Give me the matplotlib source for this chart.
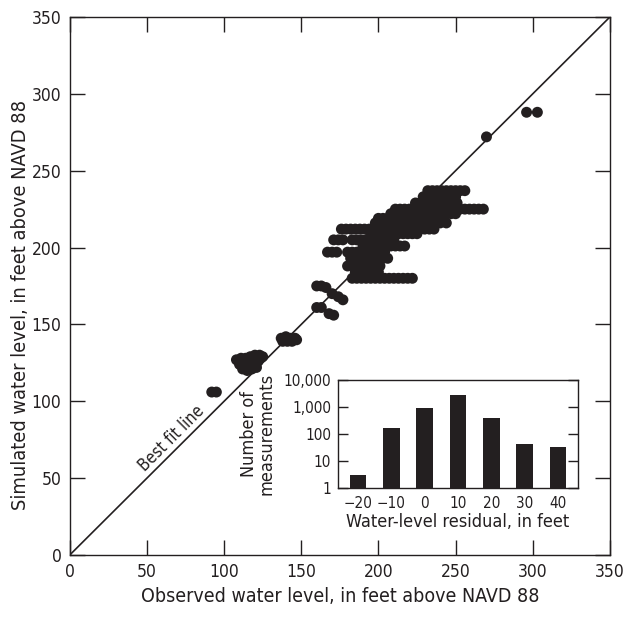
import matplotlib
matplotlib.use('Agg')
from matplotlib import pyplot as plt
from matplotlib.ticker import FixedLocator

plt.rcParams['font.family'] = ['DejaVu Sans']
plt.rcParams['font.stretch'] = 'condensed'

# observed vs simulated water levels (feet above NAVD 88)
observed = [
    92, 95,
    108, 111, 114, 117, 120, 123, 125, 110, 113, 116, 119, 122, 112, 115, 118, 121,
    137, 140, 143, 146, 138, 141, 144, 147,
    160, 163, 166, 170, 174, 177, 160, 163, 168, 171,
    183, 186, 189, 192, 195, 198, 201, 204, 207, 210, 213, 216, 219, 222,
    185, 188, 191, 194, 197, 200,
    180, 183, 186, 189, 192, 195, 198, 201,
    182, 185, 188, 191, 194, 197, 200, 203, 206,
    167, 170, 173, 180, 183, 186, 189, 192, 195, 198, 201, 204,
    190, 193, 196, 199, 202, 205, 208, 211, 214, 217,
    171, 174, 177, 183, 186, 189, 192, 195, 198, 201, 204, 207, 210,
    195, 198, 201, 204, 207, 210, 213, 216, 219, 222, 225,
    176, 179, 182, 185, 188, 191, 194, 197, 200, 203, 206, 209, 212, 215, 218,
    221, 224, 227, 230, 233, 236,
    198, 201, 204, 207, 210, 213, 216, 219, 222, 225, 228, 231, 234, 237, 240, 244,
    200, 203, 206, 209, 212, 215, 218, 221, 224, 227, 230, 233, 236, 239, 242,
    208, 211, 214, 217, 220, 223, 226, 229, 232, 235, 238, 241, 244, 247, 250,
    211, 214, 217, 220, 223, 226, 229, 232, 235, 238, 241, 244, 247, 250, 253,
    256, 259, 262, 265, 268,
    224, 227, 230, 233, 236, 239, 242, 245, 248, 251,
    229, 232, 235, 238, 241, 244, 247, 250,
    232, 235, 238, 241, 244, 247, 250, 253, 256,
    270, 296, 303,
]
simulated = [
    106, 106,
    127, 128, 128, 129, 130, 130, 129, 124, 124, 125, 125, 126, 121, 120, 121, 122,
    141, 142, 141, 141, 139, 139, 139, 140,
    175, 175, 174, 170, 168, 166, 161, 161, 157, 156,
    180, 180, 180, 180, 180, 180, 180, 180, 180, 180, 180, 180, 180, 180,
    184, 184, 184, 184, 184, 184,
    188, 188, 188, 188, 188, 188, 188, 188,
    193, 193, 193, 193, 193, 193, 193, 193, 193,
    197, 197, 197, 197, 197, 197, 197, 197, 197, 197, 197, 197,
    201, 201, 201, 201, 201, 201, 201, 201, 201, 201,
    205, 205, 205, 205, 205, 205, 205, 205, 205, 205, 205, 205, 205,
    209, 209, 209, 209, 209, 209, 209, 209, 209, 209, 209,
    212, 212, 212, 212, 212, 212, 212, 212, 212, 212, 212, 212, 212, 212, 212,
    212, 212, 212, 212, 212, 212,
    216, 216, 216, 216, 216, 216, 216, 216, 216, 216, 216, 216, 216, 216, 216, 216,
    219, 219, 219, 219, 219, 219, 219, 219, 219, 219, 219, 219, 219, 219, 219,
    222, 222, 222, 222, 222, 222, 222, 222, 222, 222, 222, 222, 222, 222, 222,
    225, 225, 225, 225, 225, 225, 225, 225, 225, 225, 225, 225, 225, 225, 225,
    225, 225, 225, 225, 225,
    229, 229, 229, 229, 229, 229, 229, 229, 229, 229,
    233, 233, 233, 233, 233, 233, 233, 233,
    237, 237, 237, 237, 237, 237, 237, 237, 237,
    272, 288, 288,
]

# residual histogram (inset)
residual_bins = [-20, -10, 0, 10, 20, 30, 40]
counts = [2, 170, 950, 2800, 380, 42, 32]

ink = '#231f20'

fig = plt.figure(figsize=(6.4, 6.17), dpi=100)
ax = fig.add_axes([0.109, 0.1005, 0.844, 0.872])

ax.plot([0, 350], [0, 350], color=ink, lw=1.2, zorder=1)
ax.scatter(observed, simulated, s=62, color=ink, edgecolors='none', zorder=2)
ax.text(66, 76, 'Best fit line', rotation=45, ha='center', va='center',
        fontsize=12, color=ink)

ax.set_xlim(0, 350)
ax.set_ylim(0, 350)
ax.set_xticks(range(0, 351, 50))
ax.set_yticks(range(0, 351, 50))
ax.tick_params(direction='in', length=10.5, width=1, top=True, right=True,
               labelsize=12.5, colors=ink, pad=6)
ax.set_xlabel('Observed water level, in feet above NAVD 88', fontsize=14,
              color=ink, labelpad=4)
ax.set_ylabel('Simulated water level, in feet above NAVD 88', fontsize=14.3,
              color=ink)
ax.yaxis.set_label_coords(-0.073, 0.465)
for sp in ax.spines.values():
    sp.set_color(ink)
    sp.set_linewidth(1)

ins = fig.add_axes([0.528, 0.209, 0.375, 0.175])
ins.bar(residual_bins, counts, width=5, color=ink, bottom=1)
ins.set_yscale('log')
ins.set_ylim(1, 10000)
ins.set_xlim(-26, 46)
ins.set_xticks(residual_bins)
ins.set_xticklabels(['\u221220', '\u221210', '0', '10', '20', '30', '40'])
ins.yaxis.set_major_locator(FixedLocator([1, 10, 100, 1000, 10000]))
ins.yaxis.set_minor_locator(FixedLocator([]))
ins.set_yticklabels(['1', '10', '100', '1,000', '10,000'])
ins.tick_params(axis='y', direction='in', length=7, width=1, right=True,
                labelsize=11, colors=ink, pad=5)
ins.tick_params(axis='x', length=0, labelsize=11, colors=ink, pad=6)
ins.set_xlabel('Water-level residual, in feet', fontsize=13, color=ink,
               labelpad=1)
ins.set_ylabel('Number of\nmeasurements', fontsize=13, color=ink,
               labelpad=6, linespacing=0.95)
for sp in ins.spines.values():
    sp.set_color(ink)
    sp.set_linewidth(1)

fig.savefig('out.png', dpi=100)
